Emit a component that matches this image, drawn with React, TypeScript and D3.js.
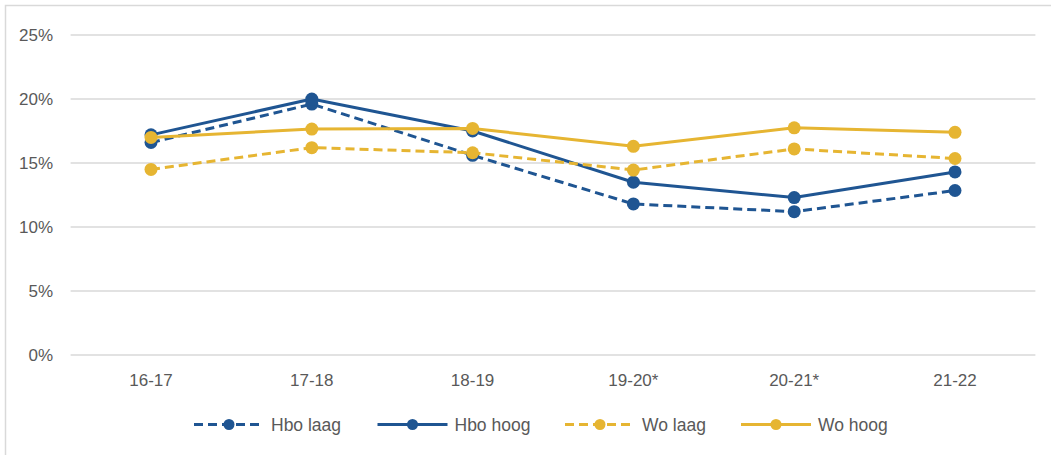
import * as d3 from 'd3';

const years = ['16-17', '17-18', '18-19', '19-20*', '20-21*', '21-22'];
const hboLaag = [16.6, 19.6, 15.6, 11.8, 11.2, 12.85];
const hboHoog = [17.2, 20.0, 17.5, 13.5, 12.3, 14.3];
const woLaag = [14.5, 16.2, 15.8, 14.45, 16.1, 15.35];
const woHoog = [17.0, 17.65, 17.7, 16.3, 17.75, 17.4];
const yTicks = [0, 5, 10, 15, 20, 25];

const BLUE = '#1F5592';
const GOLD = '#E6B532';

const series = [
  { name: 'Hbo laag', values: hboLaag, color: BLUE, dashed: true },
  { name: 'Hbo hoog', values: hboHoog, color: BLUE, dashed: false },
  { name: 'Wo laag', values: woLaag, color: GOLD, dashed: true },
  { name: 'Wo hoog', values: woHoog, color: GOLD, dashed: false },
];

const W = 1051;
const H = 455;
const margin = { top: 35, right: 15.6, bottom: 100, left: 70.6 };

export default function App() {
  const x = d3
    .scaleBand()
    .domain(years)
    .range([margin.left, W - margin.right]);
  const y = d3
    .scaleLinear()
    .domain([0, 25])
    .range([H - margin.bottom, margin.top]);
  const cx = (c: string) => (x(c) ?? 0) + x.bandwidth() / 2;

  const line = d3
    .line<number>()
    .x((_, i) => cx(years[i]))
    .y((d) => y(d));

  const font = '"Liberation Sans", Arial, sans-serif';
  const textColor = '#595959';

  // legend item starts (line start x)
  const legendX = [194, 377.5, 565, 741];
  const legendY = 424.5;

  return (
    <svg
      width={W}
      height={H}
      style={{ position: 'fixed', left: 0, top: 0, background: '#fff' }}
      fontFamily={font}
    >
      <rect x={5.5} y={5.5} width={W + 10} height={H + 10} fill="#fff" stroke="#D9D9D9" strokeWidth={1.5} />

      {/* grid + y labels */}
      {yTicks.map((t) => (
        <g key={t}>
          <line
            x1={margin.left}
            x2={W - margin.right}
            y1={y(t)}
            y2={y(t)}
            stroke="#D9D9D9"
            strokeWidth={1.5}
          />
          <text
            x={53}
            y={y(t)}
            dy="0.36em"
            textAnchor="end"
            fontSize={17}
            fill={textColor}
          >
            {t}%
          </text>
        </g>
      ))}

      {/* x labels */}
      {years.map((c) => (
        <text
          key={c}
          x={cx(c)}
          y={380}
          dy="0.36em"
          textAnchor="middle"
          fontSize={17}
          fill={textColor}
        >
          {c}
        </text>
      ))}

      {/* series */}
      {series.map((s) => (
        <g key={s.name}>
          <path
            d={line(s.values) ?? ''}
            fill="none"
            stroke={s.color}
            strokeWidth={3}
            strokeDasharray={s.dashed ? '9,5' : undefined}
            strokeLinejoin="round"
          />
          {s.values.map((v, i) => (
            <circle key={i} cx={cx(years[i])} cy={y(v)} r={6.5} fill={s.color} />
          ))}
        </g>
      ))}

      {/* legend */}
      {series.map((s, i) => (
        <g key={s.name} transform={`translate(${legendX[i]},${legendY})`}>
          <line
            x1={0}
            x2={70}
            y1={0}
            y2={0}
            stroke={s.color}
            strokeWidth={3}
            strokeDasharray={s.dashed ? '9,5' : undefined}
          />
          <circle cx={35} cy={0} r={5.5} fill={s.color} />
          <text x={77} y={0} dy="0.36em" fontSize={17.5} fill={textColor}>
            {s.name}
          </text>
        </g>
      ))}
    </svg>
  );
}
